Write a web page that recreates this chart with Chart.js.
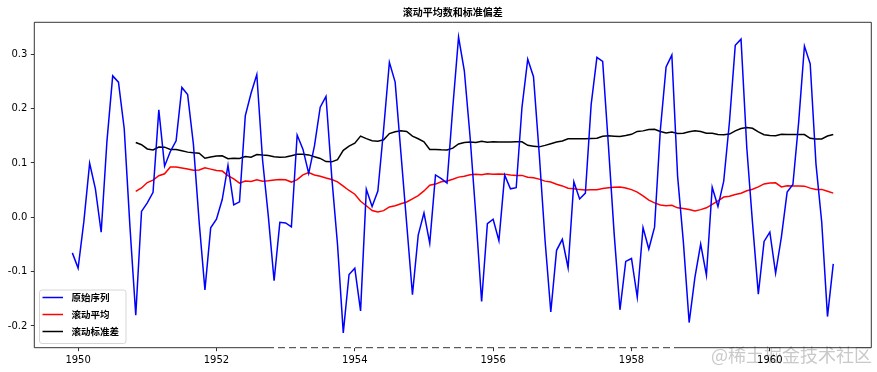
<!DOCTYPE html>
<html>
<head>
<meta charset="utf-8">
<script src="https://cdn.jsdelivr.net/npm/chart.js@4.4.1/dist/chart.umd.min.js"></script>
<style>
    body { margin: 0; background: #ffffff; }
    #wrap { width: 877px; height: 372px; }
</style>
</head>
<body>
<div id="wrap"><canvas id="rolling_stats" width="877" height="372"></canvas></div>
<script>
// monthly series, first value is 1949-12
const firstYear = 1949, firstMonth = 12;
const original = [
    -0.0655,-0.0935,-0.0076,0.0994,0.0522,-0.0276,0.1398,0.2602,0.2486,0.1629,-0.0186,-0.1804,
    0.0108,0.0266,0.0459,0.1977,0.0940,0.1211,0.1406,0.2390,0.2258,0.1347,-0.0090,-0.1336,
    -0.0194,-0.0035,0.0326,0.0956,0.0227,0.0285,0.1866,0.2282,0.2627,0.1054,0.0017,-0.1168,
    -0.0093,-0.0105,-0.0176,0.1513,0.1254,0.0808,0.1312,0.2025,0.2226,0.0744,-0.0501,-0.2128,
    -0.1054,-0.0939,-0.1722,0.0514,0.0197,0.0482,0.1619,0.2852,0.2488,0.1180,-0.0119,-0.1425,
    -0.0328,0.0081,-0.0476,0.0779,0.0713,0.0631,0.2025,0.3316,0.2696,0.1478,0.0029,-0.1550,
    -0.0117,-0.0036,-0.0430,0.0776,0.0523,0.0545,0.2024,0.2910,0.2586,0.1160,-0.0417,-0.1743,
    -0.0608,-0.0405,-0.0929,0.0652,0.0337,0.0444,0.2073,0.2944,0.2868,0.1312,-0.0314,-0.1703,
    -0.0813,-0.0758,-0.1472,-0.0191,-0.0585,-0.0182,0.1602,0.2768,0.2985,0.0753,-0.0457,-0.1937,
    -0.1105,-0.0492,-0.1066,0.0554,0.0197,0.0664,0.1763,0.3164,0.3278,0.1280,-0.0113,-0.1415,
    -0.0445,-0.0275,-0.1031,-0.0365,0.0463,0.0602,0.1751,0.3151,0.2824,0.0982,-0.0092,-0.1827,
    -0.0858
];
// rolling window of 12, first value is 1950-11
const rollMean = [
    0.0475,0.0539,0.0639,0.0683,0.0765,0.0800,0.0924,0.0925,0.0907,0.0888,0.0864,0.0872,
    0.0911,0.0886,0.0861,0.0850,0.0765,0.0706,0.0628,0.0667,0.0658,0.0688,0.0664,0.0673,
    0.0687,0.0695,0.0690,0.0648,0.0694,0.0780,0.0823,0.0777,0.0756,0.0722,0.0696,0.0653,
    0.0573,0.0493,0.0424,0.0295,0.0212,0.0124,0.0096,0.0122,0.0191,0.0213,0.0249,0.0281,
    0.0339,0.0400,0.0485,0.0589,0.0611,0.0654,0.0666,0.0700,0.0739,0.0756,0.0781,0.0793,
    0.0783,0.0800,0.0791,0.0795,0.0794,0.0778,0.0771,0.0771,0.0737,0.0728,0.0702,0.0665,
    0.0648,0.0608,0.0577,0.0535,0.0525,0.0509,0.0501,0.0505,0.0508,0.0531,0.0544,0.0553,
    0.0556,0.0539,0.0509,0.0464,0.0394,0.0317,0.0265,0.0226,0.0211,0.0221,0.0174,0.0162,
    0.0143,0.0118,0.0141,0.0174,0.0237,0.0302,0.0372,0.0386,0.0419,0.0443,0.0487,0.0516,
    0.0559,0.0614,0.0632,0.0635,0.0559,0.0581,0.0576,0.0575,0.0573,0.0536,0.0511,0.0513,
    0.0478,0.0444
];
const rollStd = [
    0.1375,0.1335,0.1257,0.1239,0.1292,0.1291,0.1249,0.1249,0.1225,0.1199,0.1186,0.1179,
    0.1086,0.1110,0.1128,0.1133,0.1078,0.1087,0.1081,0.1118,0.1104,0.1156,0.1144,0.1138,
    0.1112,0.1105,0.1109,0.1133,0.1158,0.1159,0.1148,0.1113,0.1083,0.1025,0.1020,0.1061,
    0.1233,0.1309,0.1365,0.1494,0.1447,0.1409,0.1398,0.1425,0.1540,0.1573,0.1592,0.1579,
    0.1492,0.1445,0.1387,0.1247,0.1248,0.1241,0.1240,0.1273,0.1349,0.1375,0.1386,0.1378,
    0.1397,0.1383,0.1388,0.1385,0.1385,0.1387,0.1388,0.1388,0.1324,0.1309,0.1296,0.1323,
    0.1353,0.1385,0.1405,0.1444,0.1443,0.1444,0.1444,0.1449,0.1454,0.1492,0.1499,0.1493,
    0.1487,0.1503,0.1526,0.1580,0.1590,0.1615,0.1620,0.1578,0.1551,0.1569,0.1542,0.1547,
    0.1574,0.1592,0.1580,0.1547,0.1546,0.1524,0.1519,0.1532,0.1591,0.1635,0.1652,0.1637,
    0.1571,0.1518,0.1505,0.1502,0.1529,0.1525,0.1525,0.1524,0.1522,0.1453,0.1442,0.1441,
    0.1495,0.1523
];
const seriesNames = ['原始序列', '滚动平均', '滚动标准差'];
const seriesColors = ['#0000ff', '#ff0000', '#000000'];
const xTicks = [1950, 1952, 1954, 1956, 1958, 1960];
const yTicks = [-0.2, -0.1, 0.0, 0.1, 0.2, 0.3];
const titleText = '滚动平均数和标准偏差';
const watermarkText = '@稀土掘金技术社区';

const tickFont = { family: '"DejaVu Sans"', size: 10 };
const cjkFont = '"Noto Sans CJK SC", "Noto Sans CJK JP", sans-serif';

function monthToX(idx) {
    return firstYear + (firstMonth - 1 + idx) / 12;
}

function toPoints(values) {
    let shift = original.length - values.length;
    return values.map((v, i) => ({ x: monthToX(i + shift), y: v }));
}

const xMin = monthToX(0), xMax = monthToX(original.length - 1);
const xPad = (xMax - xMin) * 0.05;
const allY = original.concat(rollMean, rollStd);
const yLo = Math.min(...allY), yHi = Math.max(...allY);
const yPad = (yHi - yLo) * 0.05;

const framePlugin = {
    id: 'frame',
    beforeDraw(chart) {
        let ctx = chart.ctx;
        ctx.save();
        ctx.font = '18px ' + cjkFont;
        ctx.fillStyle = '#c9c9c9';
        ctx.textBaseline = 'middle';
        ctx.textAlign = 'left';
        ctx.fillText(watermarkText, 711, 355);
        ctx.restore();
    },
    afterDatasetsDraw(chart) {
        let ctx = chart.ctx, a = chart.chartArea;
        ctx.save();
        ctx.strokeStyle = '#000000';
        ctx.lineWidth = 0.8;
        ctx.beginPath();
        ctx.moveTo(a.left, a.bottom); ctx.lineTo(a.left, a.top);
        ctx.lineTo(a.right, a.top); ctx.lineTo(a.right, a.bottom);
        ctx.lineTo(680, a.bottom);
        ctx.moveTo(a.left, a.bottom); ctx.lineTo(267, a.bottom);
        ctx.stroke();
        ctx.setLineDash([7, 4]);
        ctx.beginPath();
        ctx.moveTo(267, a.bottom); ctx.lineTo(680, a.bottom);
        ctx.stroke();
        ctx.restore();
    },
    afterDraw(chart) {
        let ctx = chart.ctx, a = chart.chartArea;
        ctx.save();
        ctx.font = 'bold 10px ' + cjkFont;
        ctx.fillStyle = '#000000';
        ctx.textAlign = 'center';
        ctx.textBaseline = 'middle';
        ctx.fillText(titleText, (a.left + a.right) / 2, 12.5);

        // legend box, lower left
        let bx = 39.5, by = 290, bw = 86.5, bh = 53.5;
        ctx.beginPath();
        ctx.roundRect(bx, by, bw, bh, 2.5);
        ctx.fillStyle = 'rgba(255,255,255,0.8)';
        ctx.fill();
        ctx.strokeStyle = '#cccccc';
        ctx.lineWidth = 0.8;
        ctx.stroke();
        ctx.font = 'bold 9.5px ' + cjkFont;
        ctx.textAlign = 'left';
        chart.data.datasets.forEach((ds, i) => {
            let rowY = 297.5 + i * 17;
            ctx.strokeStyle = ds.borderColor;
            ctx.lineWidth = 1.5;
            ctx.beginPath();
            ctx.moveTo(42.5, rowY); ctx.lineTo(63, rowY);
            ctx.stroke();
            ctx.fillStyle = '#000000';
            ctx.fillText(ds.label, 71.5, rowY);
        });
        ctx.restore();
    }
};

function makeDataset(i, values) {
    return {
        label: seriesNames[i],
        data: toPoints(values),
        borderColor: seriesColors[i],
        borderWidth: 1.5,
        pointRadius: 0,
        tension: 0,
        fill: false,
    };
}

const chartConfig = {
    type: 'line',
    data: {
        datasets: [
            makeDataset(0, original),
            makeDataset(1, rollMean),
            makeDataset(2, rollStd),
        ],
    },
    options: {
        responsive: false,
        animation: false,
        devicePixelRatio: 1,
        layout: { padding: { top: 22.3, right: 5.7, left: 0, bottom: 0 } },
        scales: {
            x: {
                type: 'linear',
                min: xMin - xPad,
                max: xMax + xPad,
                afterBuildTicks: (scale) => { scale.ticks = xTicks.map((v) => ({ value: v })); },
                afterFit: (scale) => { scale.height = 24.3; },
                ticks: { font: tickFont, color: '#000000', padding: 3, maxRotation: 0,
                    callback: (v) => String(v) },
                grid: { drawOnChartArea: false, drawTicks: true, tickLength: 3.5, color: '#000000', lineWidth: 0.8 },
                border: { display: false },
            },
            y: {
                min: yLo - yPad,
                max: yHi + yPad,
                afterBuildTicks: (scale) => { scale.ticks = yTicks.map((v) => ({ value: v })); },
                afterFit: (scale) => { scale.width = 34.3; },
                ticks: { font: tickFont, color: '#000000', padding: 3.5,
                    callback: (v) => v.toFixed(1) },
                grid: { drawOnChartArea: false, drawTicks: true, tickLength: 3.5, color: '#000000', lineWidth: 0.8 },
                border: { display: false },
            },
        },
        plugins: {
            legend: { display: false },
            tooltip: { enabled: false },
            title: { display: false },
        },
    },
    plugins: [framePlugin],
};

const chartCanvas = document.getElementById('rolling_stats');
const statsChart = new Chart(chartCanvas, chartConfig);
</script>
</body>
</html>
